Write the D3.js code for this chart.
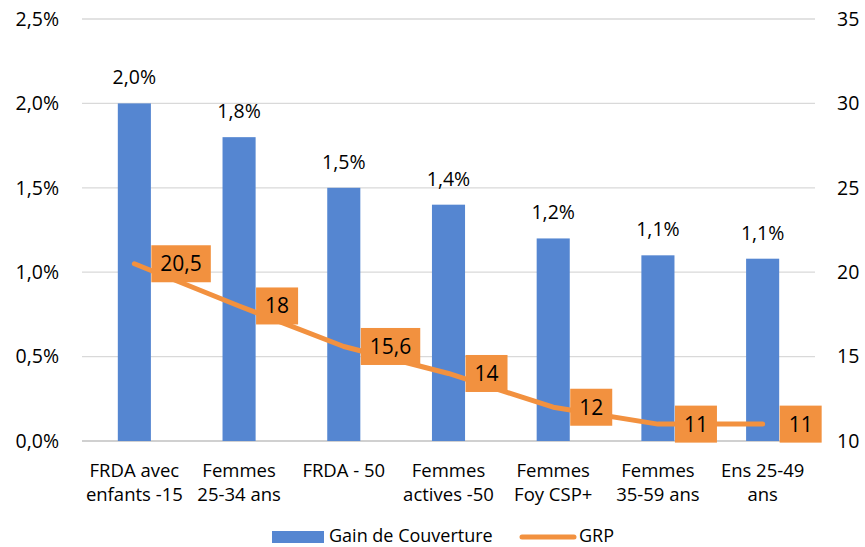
<!DOCTYPE html>
<html><head><meta charset="utf-8">
<script src="https://cdn.jsdelivr.net/npm/d3@7"></script>
<style>body{margin:0;background:#fff}svg{display:block}text{font-family:"Open Sans",sans-serif;fill:#000}</style>
</head><body><svg id="c" width="865" height="547"></svg>
<script>
const categories = [["FRDA avec","enfants -15"],["Femmes","25-34 ans"],["FRDA - 50"],["Femmes","actives -50"],["Femmes","Foy CSP+"],["Femmes","35-59 ans"],["Ens 25-49","ans"]];
const gain = [2.0, 1.8, 1.5, 1.4, 1.2, 1.1, 1.08];
const gainLabels = ["2,0%","1,8%","1,5%","1,4%","1,2%","1,1%","1,1%"];
const grp = [20.5, 18, 15.6, 14, 12, 11, 11];
const grpLabels = ["20,5","18","15,6","14","12","11","11"];
const leftTicks = [0, 0.5, 1.0, 1.5, 2.0, 2.5];
const rightTicks = [10, 15, 20, 25, 30, 35];

const svg = d3.select("#c");
const L = 82, R = 815, T = 19, B = 441;
const x = d3.scaleBand().domain(d3.range(categories.length)).range([L, R]).paddingInner(0.684).paddingOuter(0.342);
const yL = d3.scaleLinear().domain([0, 2.5]).range([B, T]);
const yR = d3.scaleLinear().domain([10, 35]).range([B, T]);
const fmt = v => v.toFixed(1).replace(".", ",") + "%";
const blue = "#5586d1", orange = "#f2913f";

// gridlines
svg.append("g").selectAll("line").data(leftTicks).join("line")
  .attr("x1", L).attr("x2", R).attr("y1", d => yL(d)).attr("y2", d => yL(d))
  .attr("stroke", d => d === 0 ? "#d0d0d0" : "#d9d9d9").attr("stroke-width", d => d === 0 ? 2 : 1.3);

// left axis
const gl = svg.append("g").attr("transform", `translate(${L},0)`)
  .call(d3.axisLeft(yL).tickValues(leftTicks).tickFormat(fmt).tickSize(0).tickPadding(23));
gl.select(".domain").remove();
gl.selectAll("text").style("font-size", "19.5px").style("font-family", "'Open Sans',sans-serif").attr("fill", "#000");

// right axis
const gr = svg.append("g").attr("transform", `translate(${R},0)`)
  .call(d3.axisRight(yR).tickValues(rightTicks).tickSize(0).tickPadding(22));
gr.select(".domain").remove();
gr.selectAll("text").style("font-size", "19.5px").style("font-family", "'Open Sans',sans-serif").attr("fill", "#000");

// bars
svg.append("g").selectAll("rect").data(gain).join("rect")
  .attr("x", (d, i) => x(i)).attr("width", x.bandwidth())
  .attr("y", d => yL(d)).attr("height", d => B - yL(d)).attr("fill", blue);

// bar labels
svg.append("g").selectAll("text").data(gain).join("text")
  .attr("x", (d, i) => x(i) + x.bandwidth() / 2).attr("y", d => yL(d) - 19)
  .attr("text-anchor", "middle").style("font-size", "19.5px").text((d, i) => gainLabels[i]);

// category labels
const cg = svg.append("g");
categories.forEach((lines, i) => {
  const t = cg.append("text").attr("text-anchor", "middle").style("font-size", "18.5px")
    .attr("x", x(i) + x.bandwidth() / 2).attr("y", 477);
  lines.forEach((s, j) => t.append("tspan").attr("x", x(i) + x.bandwidth() / 2).attr("dy", j ? 23.5 : 0).text(s));
});

// GRP line
const cx = i => x(i) + x.bandwidth() / 2;
svg.append("path").datum(grp)
  .attr("d", d3.line().x((d, i) => cx(i)).y(d => yR(d)))
  .attr("fill", "none").attr("stroke", orange).attr("stroke-width", 5).attr("stroke-linecap", "round").attr("stroke-linejoin", "round");

// GRP labels
const lg = svg.append("g");
grp.forEach((v, i) => {
  const g = lg.append("g");
  const t = g.append("text").style("font-size", "21px").attr("text-anchor", "start")
    .attr("x", cx(i) + 26).attr("y", yR(v) + 7.5).text(grpLabels[i]);
  const w = t.node().getComputedTextLength();
  g.insert("rect", "text").attr("x", cx(i) + 17).attr("y", yR(v) - 18.5)
    .attr("width", w + 18).attr("height", 37).attr("fill", orange);
});

// legend
svg.append("rect").attr("x", 272).attr("y", 531).attr("width", 52).attr("height", 12).attr("fill", blue);
svg.append("text").attr("x", 329).attr("y", 542).style("font-size", "18px").text("Gain de Couverture");
svg.append("line").attr("x1", 522).attr("x2", 574).attr("y1", 537).attr("y2", 537)
  .attr("stroke", orange).attr("stroke-width", 5).attr("stroke-linecap", "round");
svg.append("text").attr("x", 579).attr("y", 542).style("font-size", "18px").text("GRP");
</script></body></html>
